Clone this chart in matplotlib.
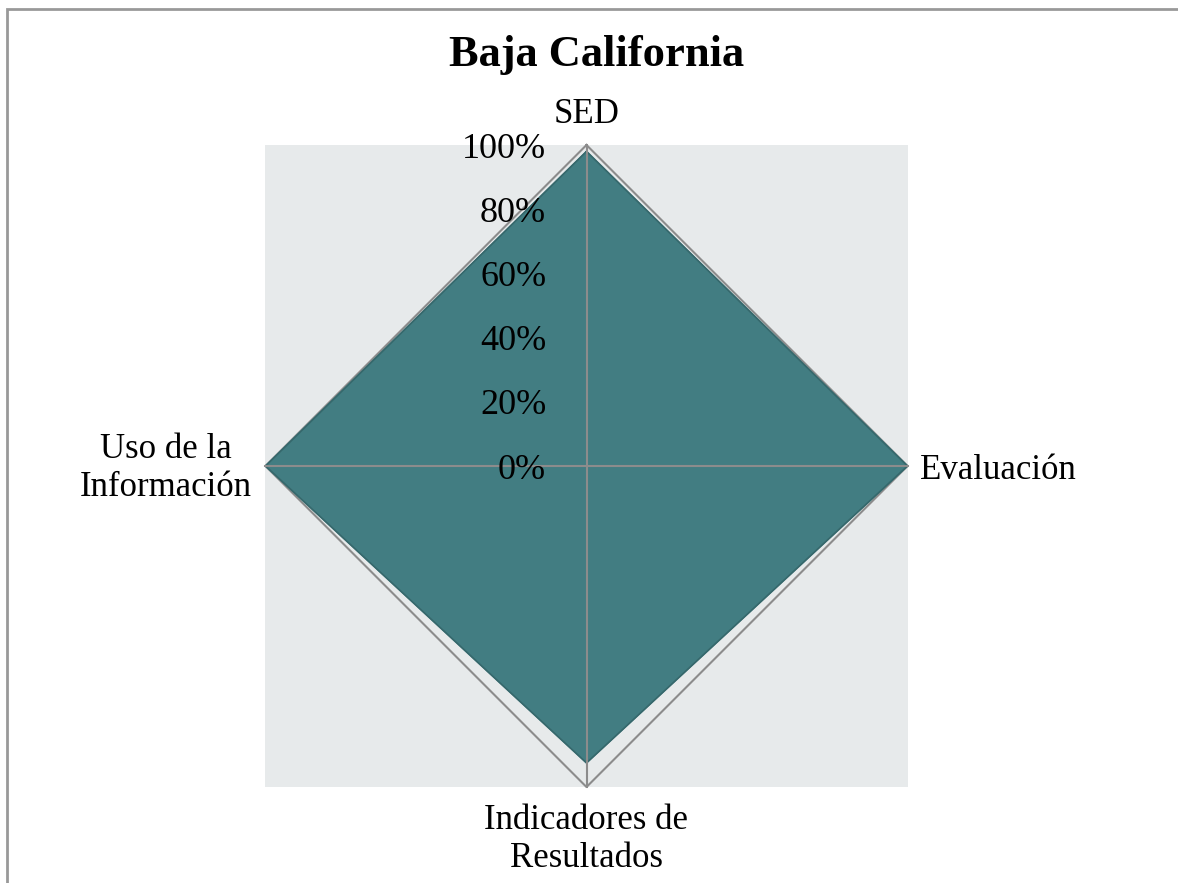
import numpy as np
import matplotlib.pyplot as plt
from matplotlib.patches import Rectangle

# categories clockwise starting at top
categories = ['SED', 'Evaluación', 'Indicadores de\nResultados', 'Uso de la\nInformación']
values = [0.98, 1.00, 0.925, 1.00]
tick_values = [0.0, 0.2, 0.4, 0.6, 0.8, 1.0]
tick_labels = ['0%', '20%', '40%', '60%', '80%', '100%']
title = 'Baja California'

fill_color = '#427d82'
edge_color = '#36686c'
grid_color = '#8c8c8c'
bg_color = '#e7eaeb'

plt.rcParams['font.family'] = ['Liberation Serif', 'DejaVu Serif']

fig = plt.figure(figsize=(11.78, 8.83), dpi=100)
ax = fig.add_axes([265 / 1178, 96 / 883, 643 / 1178, 642 / 883], projection='polar')
ax.set_zorder(1)
ax.set_theta_zero_location('N')
ax.set_theta_direction(-1)
ax.set_ylim(0, 1)
ax.grid(False)
ax.spines['polar'].set_visible(False)
ax.patch.set_visible(False)
ax.set_xticks([])
ax.set_yticks([])

# square grey plot area behind the polar axes
fig.patches.append(Rectangle((0, 0), 1, 1, transform=ax.transAxes, facecolor=bg_color,
                             edgecolor='none', zorder=-2))
# outer frame of the chart
fig.patches.append(Rectangle((7 / 1178, -0.1), 1.2, (883 - 9) / 883 + 0.1, transform=fig.transFigure,
                             facecolor='none', edgecolor='#999999', linewidth=2, zorder=-2))

angles = np.linspace(0, 2 * np.pi, len(categories), endpoint=False)
closed_angles = np.append(angles, angles[0])

# outer 100% gridline
ax.plot(closed_angles, np.ones(len(closed_angles)), color=grid_color, linewidth=1.5, zorder=1,
        clip_on=False)

# data polygon
closed_values = np.append(values, values[0])
ax.fill(closed_angles, closed_values, color=fill_color, zorder=2, clip_on=False)
ax.plot(closed_angles, closed_values, color=edge_color, linewidth=1.2, zorder=3, clip_on=False)

# spokes
for a in angles:
    ax.plot([a, a], [0, 1], color=grid_color, linewidth=1.5, zorder=4, clip_on=False)

# radial tick labels
for v, lab in zip(tick_values, tick_labels):
    ax.annotate(lab, xy=(0, v), xytext=(-29, -3), textcoords='offset points',
                ha='right', va='center', fontsize=26, color='black', zorder=5)

# category labels
ax.annotate(categories[0], xy=(angles[0], 1), xytext=(0, 10), textcoords='offset points',
            ha='center', va='bottom', fontsize=25)
ax.annotate(categories[1], xy=(angles[1], 1), xytext=(9, -3), textcoords='offset points',
            ha='left', va='center', fontsize=25)
ax.annotate(categories[2], xy=(angles[2], 1), xytext=(0, -12), textcoords='offset points',
            ha='center', va='top', fontsize=25, multialignment='center')
ax.annotate(categories[3], xy=(angles[3], 1), xytext=(-10, -2), textcoords='offset points',
            ha='right', va='center', fontsize=25, multialignment='center')

fig.text(597 / 1178, 1 - 55 / 883, title, ha='center', va='center', fontsize=32, fontweight='bold')

fig.savefig('out.png', dpi=100)
